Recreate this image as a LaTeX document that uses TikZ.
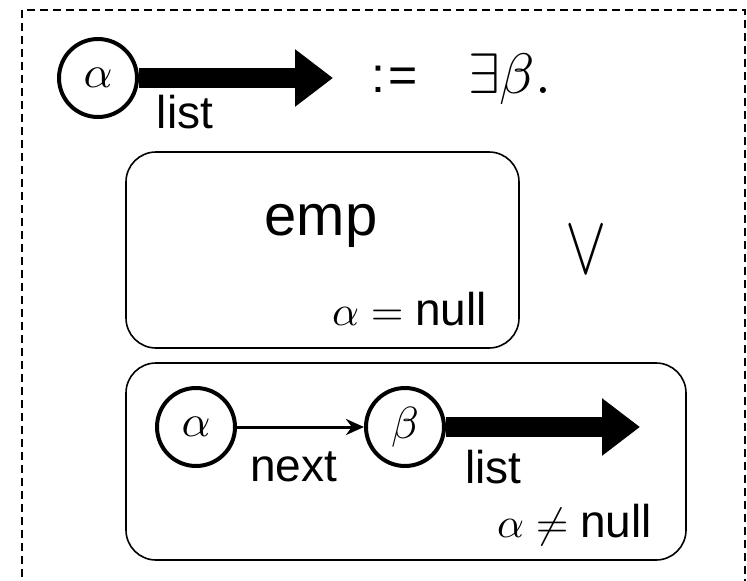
\documentclass[tikz,border=0pt]{standalone}
\usepackage{fontspec}
\setmainfont{Liberation Sans}
\usetikzlibrary{arrows.meta}

% math set at 10pt and magnified, so any size is available
\newcommand{\magmath}[2]{\scalebox{#1}{\fontsize{10}{12}\selectfont$#2$}}

\tikzset{
  cell/.style={circle, draw, line width=4pt, minimum size=78pt, inner sep=0pt},
  casebox/.style={draw, rounded corners=30pt, line width=1.6pt, inner sep=0pt},
  fatarrow/.style={line width=20pt, -{Triangle[length=38pt,width=55pt]}},
  thinarrow/.style={line width=3pt, -{Stealth[length=18pt,width=16pt]}},
  lbl/.style={font=\fontsize{46}{52}\selectfont, inner sep=0pt},
  frame/.style={line width=1.5pt, dash pattern=on 8pt off 5pt}
}

\begin{document}
\begin{tikzpicture}[x=1pt, y=-1pt]
  \useasboundingbox (0,0) rectangle (747,581);
  \clip (0,0) rectangle (747,581);

  % outer dashed frame (bottom edge runs past the page)
  \draw[frame] (22,10) rectangle (745,600);

  % heading: alpha --list--> := exists beta.
  \node[cell] (a1) at (98,78) {\magmath{4.5}{\alpha}};
  \coordinate (t1) at (333,78);
  \draw[fatarrow] (a1) -- (t1);
  \node[lbl, anchor=base] (l1) at (185,128) {list};
  \node[font=\fontsize{50}{56}\selectfont, inner sep=0pt, anchor=base west]
       (def) at (371,92) {:\kern3pt=};
  \node[inner sep=0pt, anchor=base west] (ex) at (468,93) {\magmath{5.7}{\exists\beta.}};

  % first case: empty list
  \node[casebox, minimum width=393pt, minimum height=196pt] (c1) at (322.5,250) {};
  \node[font=\fontsize{58}{64}\selectfont, inner sep=0pt, anchor=base]
       (emp) at (321,235) {emp};
  \node[lbl, anchor=base east] (n1) at (487,325) {\magmath{4.2}{\alpha = {}}null};

  % disjunction, stretched upright
  \node[inner sep=0pt] (or) at (586,250)
       {\scalebox{6.2}[8.4]{\fontsize{10}{12}\selectfont$\vee$}};

  % second case: one cell followed by a list
  \node[casebox, minimum width=560pt, minimum height=197pt] (c2) at (406,461.5) {};
  \node[cell] (a2) at (196,427) {\magmath{4.5}{\alpha}};
  \node[cell] (b2) at (405,427) {\magmath{4.5}{\beta}};
  \draw[thinarrow] (a2) -- (b2);
  \coordinate (t2) at (640,427);
  \draw[fatarrow] (b2) -- (t2);
  \node[lbl, anchor=base west] (nx) at (250,481) {next};
  \node[lbl, anchor=base west] (l2) at (465,483) {list};
  \node[lbl, anchor=base east] (n2) at (652,537) {\magmath{4.2}{\alpha \neq {}}null};
\end{tikzpicture}
\end{document}
